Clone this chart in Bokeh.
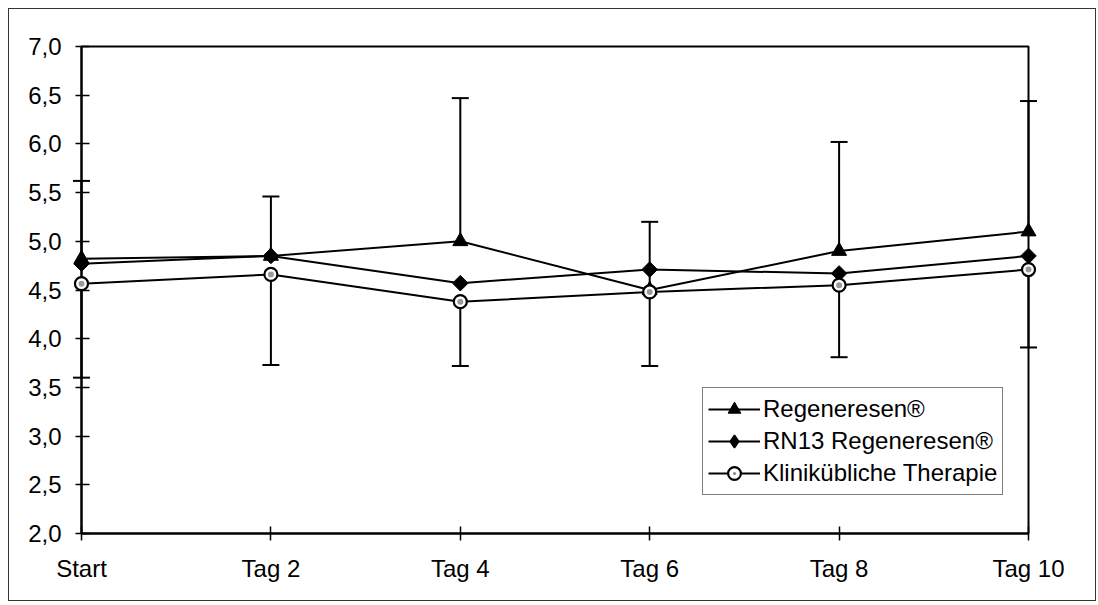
import math
from bokeh.plotting import figure
from bokeh.models import Range1d, FixedTicker, CustomJSTickFormatter, Legend, LegendItem
from bokeh.embed import file_html
from bokeh.resources import INLINE

categories = ["Start", "Tag 2", "Tag 4", "Tag 6", "Tag 8", "Tag 10"]
regeneresen = [4.82, 4.85, 5.00, 4.50, 4.90, 5.10]
rn13 = [4.77, 4.85, 4.57, 4.71, 4.67, 4.85]
klinik = [4.565, 4.66, 4.38, 4.48, 4.55, 4.71]
err_upper = [5.62, 5.46, 6.47, 5.20, 6.02, 6.44]
err_lower = [3.60, 3.73, 3.72, 3.72, 3.81, 3.91]
y_ticks = [2.0, 2.5, 3.0, 3.5, 4.0, 4.5, 5.0, 5.5, 6.0, 6.5, 7.0]

xs = list(range(len(categories)))
FONT = "Liberation Sans"

p = figure(width=1088, height=593, output_backend="svg", toolbar_location=None,
           x_range=Range1d(0, len(categories) - 1), y_range=Range1d(2.0, 7.0),
           min_border_left=72, min_border_right=69, min_border_top=37, min_border_bottom=69)
p.styles = {"border": "1px solid #333", "margin-left": "8px", "margin-top": "8px"}
p.grid.visible = False
p.outline_line_color = "black"
p.outline_line_width = 2
p.outline_line_alpha = 1.0

# axes
p.yaxis.ticker = FixedTicker(ticks=y_ticks)
p.yaxis.formatter = CustomJSTickFormatter(code="return tick.toFixed(1).replace('.', ',');")
p.xaxis.ticker = FixedTicker(ticks=xs)
p.xaxis.major_label_overrides = {i: c for i, c in enumerate(categories)}
for ax in (p.xaxis, p.yaxis):
    ax.axis_line_width = 2
    ax.axis_line_color = "black"
    ax.major_tick_line_width = 1.5
    ax.major_tick_line_color = "black"
    ax.minor_tick_line_color = None
    ax.major_label_text_font = FONT
    ax.major_label_text_font_size = "24px"
    ax.major_label_text_color = "black"
p.yaxis.major_tick_in = 8
p.yaxis.major_tick_out = 6
p.yaxis.major_label_standoff = 14
p.xaxis.major_tick_in = 7
p.xaxis.major_tick_out = 7
p.xaxis.major_label_standoff = 14

# legend-only glyph variants (hidden beneath the real markers; the legend
# draws markers at its own size and ignores angles)
lg_diamond = p.scatter(xs, rn13, marker="diamond", size=2, fill_color="black", line_color="black", line_width=1.5)
lg_dot = p.scatter(xs, klinik, marker="dot", size=2, line_color="#8c8c8c", line_width=3)

# error bars
p.segment(x0=xs, y0=regeneresen, x1=xs, y1=err_upper, line_color="black", line_width=2, level="overlay")
p.segment(x0=xs, y0=klinik, x1=xs, y1=err_lower, line_color="black", line_width=2, level="overlay")
p.scatter(x=xs, y=err_upper, marker="dash", size=17, line_color="black", line_width=2, level="overlay")
p.scatter(x=xs, y=err_lower, marker="dash", size=17, line_color="black", line_width=2, level="overlay")

# lines
l1 = p.line(xs, regeneresen, line_color="black", line_width=2, level="overlay")
l2 = p.line(xs, rn13, line_color="black", line_width=2, level="overlay")
l3 = p.line(xs, klinik, line_color="black", line_width=2, level="overlay")

# markers
m1 = p.scatter(xs, regeneresen, marker="triangle", size=15, fill_color="black", line_color="black", level="overlay")
m2 = p.scatter(xs, rn13, marker="square", angle=math.pi / 4, size=11, fill_color="black", line_color="black", level="overlay")
m3a = p.scatter(xs, klinik, marker="circle", size=13, fill_color="white", line_color="black", line_width=2.2, level="overlay")
m3b = p.scatter(xs, klinik, marker="circle", size=6, fill_color="#9a9a9a", line_color=None, level="overlay")

legend = Legend(items=[
    LegendItem(label="Regeneresen®", renderers=[l1, m1]),
    LegendItem(label="RN13 Regeneresen®", renderers=[l2, lg_diamond]),
    LegendItem(label="Klinikübliche Therapie", renderers=[l3, m3a, lg_dot]),
], location=(621, 38))
legend.label_text_font = FONT
legend.label_text_font_size = "24px"
legend.label_text_color = "black"
legend.glyph_width = 52
legend.glyph_height = 32
legend.label_height = 32
legend.label_standoff = 3
legend.spacing = 0
legend.padding = 5
legend.margin = 0
legend.border_line_color = "black"
legend.border_line_width = 1.5
legend.background_fill_color = "white"
legend.background_fill_alpha = 1.0
p.add_layout(legend)

open("out.html", "w").write(file_html(p, INLINE))
